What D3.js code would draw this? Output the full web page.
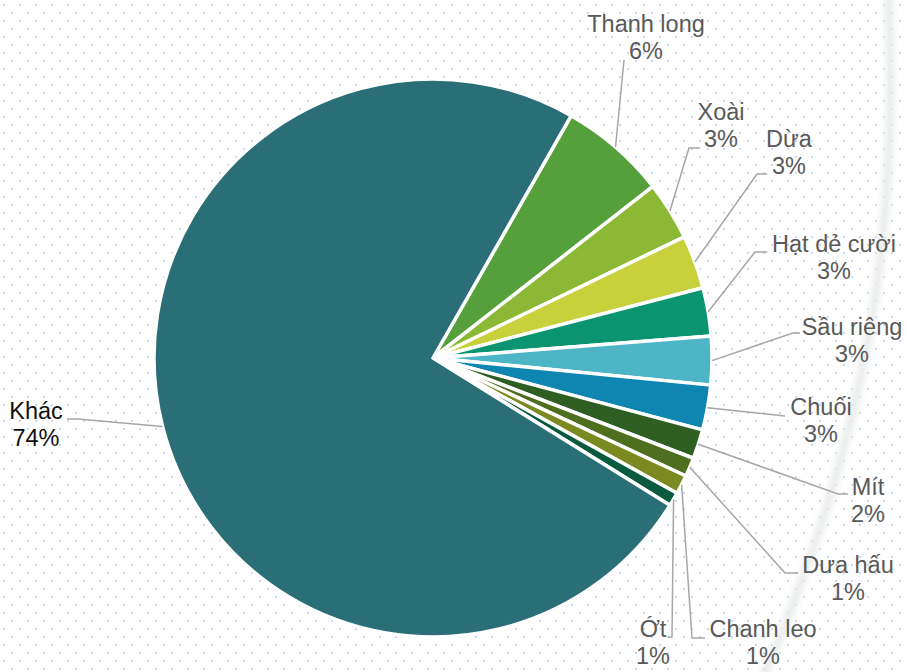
<!DOCTYPE html>
<html>
<head>
<meta charset="utf-8">
<script src="https://cdn.jsdelivr.net/npm/d3@7"></script>
<style>
  html, body { margin: 0; padding: 0; background: #fff; }
  svg { display: block; }
</style>
</head>
<body>
<svg id="chart" width="907" height="672"></svg>
<script>
// fruit share data (percent)
const fruits = ['Thanh long', 'Xoài', 'Dừa', 'Hạt dẻ cười', 'Sầu riêng', 'Chuối', 'Mít', 'Dưa hấu', 'Chanh leo', 'Ớt', 'Khác'];
const shares = [6.2, 3.4, 3.1, 2.8, 2.8, 2.6, 1.7, 1.1, 1.1, 0.8, 74.4];
const colors = ['#55a03b', '#8cb935', '#c6d13b', '#0b9470', '#4db5c5', '#0f86b2', '#2f5e23', '#4d6f1e', '#7a8a21', '#0a5a40', '#2a6f78'];

// label placement: centre x, first baseline, elbow point, line end x
const labelLayout = [
  { cx: 646, y: 32, bx: 624, by: 60, ex: 624 },
  { cx: 721, y: 120, bx: 689, by: 148, ex: 700 },
  { cx: 789, y: 147, bx: 757, by: 174, ex: 767 },
  { cx: 834, y: 252, bx: 755, by: 252, ex: 767 },
  { cx: 852, y: 335, bx: 793, by: 333, ex: 800 },
  { cx: 821, y: 415, bx: 785, by: 416, ex: 785 },
  { cx: 868, y: 495, bx: 838, by: 494, ex: 848 },
  { cx: 848, y: 573, bx: 785, by: 573, ex: 798 },
  { cx: 763, y: 637, bx: 692, by: 638, ex: 705 },
  { cx: 653, y: 637, bx: 672, by: 637, ex: 668 },
  { cx: 36, y: 419, bx: 78, by: 419, ex: 67 }
];

const width = 907, height = 672;
const cx = 433, cy = 358, radius = 279;
const startDeg = 29.7;

const svg = d3.select('#chart');

// dotted background
const defs = svg.append('defs');
const pat = defs.append('pattern')
  .attr('id', 'dots')
  .attr('width', 16).attr('height', 16)
  .attr('patternUnits', 'userSpaceOnUse');
pat.append('rect').attr('x', 3).attr('y', 4).attr('width', 2).attr('height', 2).attr('fill', '#cbd7f3');
pat.append('rect').attr('x', 11).attr('y', 12).attr('width', 2).attr('height', 2).attr('fill', '#cbd7f3');

defs.append('filter').attr('id', 'blur')
  .attr('x', '-20%').attr('width', '140%')
  .append('feGaussianBlur').attr('stdDeviation', 3);

svg.append('rect').attr('width', width).attr('height', height).attr('fill', '#fff');
svg.append('rect').attr('width', width).attr('height', height).attr('fill', 'url(#dots)');

// faint curved page edge on the right
svg.append('path')
  .attr('d', 'M888,-10 C896,170 889,390 762,680')
  .attr('fill', 'none')
  .attr('stroke', '#e9ebeb')
  .attr('stroke-width', 8)
  .attr('filter', 'url(#blur)');

const pie = d3.pie()
  .sort(null)
  .value(d => d.value)
  .startAngle(startDeg * Math.PI / 180)
  .endAngle(startDeg * Math.PI / 180 + 2 * Math.PI);

const data = fruits.map((name, i) => ({ name, value: shares[i], color: colors[i], layout: labelLayout[i] }));
const arcs = pie(data);

const arc = d3.arc().innerRadius(0).outerRadius(radius);
const edgeArc = d3.arc().innerRadius(radius).outerRadius(radius);

const g = svg.append('g').attr('transform', `translate(${cx},${cy})`);

g.selectAll('path.slice')
  .data(arcs)
  .enter()
  .append('path')
  .attr('class', 'slice')
  .attr('d', arc)
  .attr('fill', d => d.data.color)
  .attr('stroke', '#fff')
  .attr('stroke-width', 3.5)
  .attr('stroke-linejoin', 'round');

// leader lines
const lines = svg.append('g');
arcs.forEach(d => {
  const [sx, sy] = edgeArc.centroid(d);
  const L = d.data.layout;
  lines.append('polyline')
    .attr('points', `${cx + sx},${cy + sy} ${L.bx},${L.by} ${L.ex},${L.by}`)
    .attr('fill', 'none')
    .attr('stroke', '#a6a6a6')
    .attr('stroke-width', 1.5);
});

// labels
const labels = svg.append('g')
  .attr('font-family', '"Liberation Sans", Arial, sans-serif')
  .attr('font-size', 23.5)
  .attr('text-anchor', 'middle');

arcs.forEach(d => {
  const L = d.data.layout;
  const t = labels.append('text')
    .attr('fill', d.data.name === 'Khác' ? '#111' : '#595959');
  t.append('tspan').attr('x', L.cx).attr('y', L.y).text(d.data.name);
  t.append('tspan').attr('x', L.cx).attr('y', L.y + 27).text(Math.round(d.data.value) + '%');
});
</script>
</body>
</html>
